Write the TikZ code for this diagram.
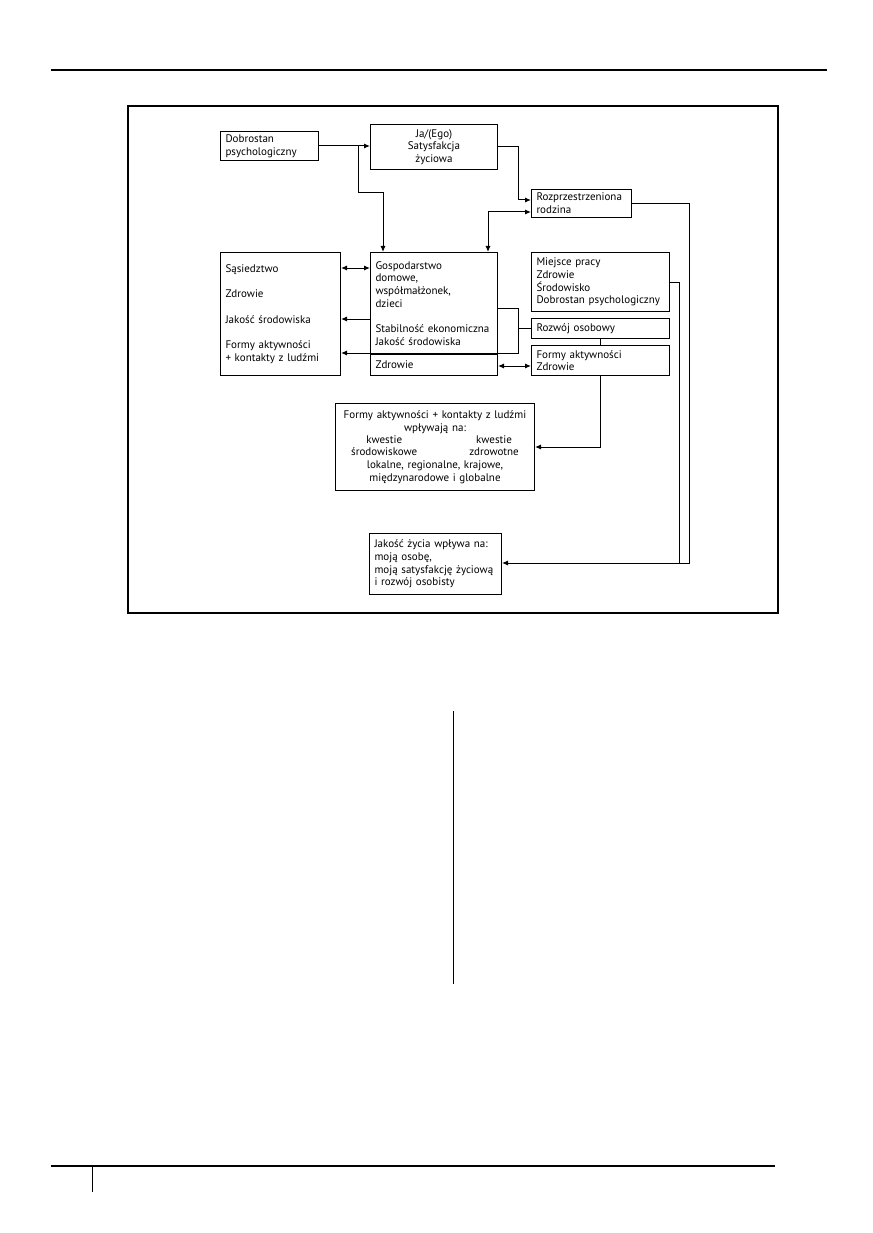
\documentclass[tikz,border=0pt]{standalone}
\usepackage{fontspec}
\setmainfont{PT Sans}
\usetikzlibrary{arrows.meta,positioning}

\begin{document}
\begin{tikzpicture}[
  x=1pt, y=-1pt,
  node distance=6pt,
  box/.style={rectangle, draw=black, line width=1pt, anchor=north west, inner xsep=5pt, inner ysep=0pt,
    align=left, font=\fontsize{11}{12.7}\selectfont},
  cbox/.style={box, align=center},
  arrow/.style={-{Latex[length=6pt,width=5pt]}, line width=1pt},
  dbl/.style={{Latex[length=6pt,width=5pt]}-{Latex[length=6pt,width=5pt]}, line width=1pt},
  link/.style={line width=1pt}
]
\useasboundingbox (0,0) rectangle (872,1233);

% page furniture
\draw[line width=1.3pt] (51,70) -- (827,70);
\draw[line width=1.1pt] (128,106) rectangle (778,613);
\draw[line width=0.8pt] (453,711) -- (453,984);
\draw[line width=1.3pt] (51,1166) -- (775,1166);
\draw[line width=0.8pt] (92,1166) -- (92,1192);

% boxes
\node[box, text width=88pt, minimum height=29pt] (dob) at (220,131) {Dobrostan\\psychologiczny};
\node[cbox, text width=117pt, minimum height=45pt] (ego) at (370,124) {Ja/(Ego)\\Satysfakcja\\życiowa};
\node[box, text width=90pt, minimum height=28pt] (rozp) at (531,189) {Rozprzestrzeniona\\rodzina};
\node[box, text width=110pt, minimum height=123pt] (sas) at (220,252)
  {Sąsiedztwo\\[12.7pt]Zdrowie\\[12.7pt]Jakość środowiska\\[12.7pt]Formy aktywności\\+ kontakty z ludźmi};
\node[box, text width=117pt, minimum height=102pt] (gosp) at (370,252)
  {Gospodarstwo\\domowe,\\współmałżonek,\\dzieci\\[12.7pt]Stabilność ekonomiczna\\Jakość środowiska};
\node[box, text width=117pt, minimum height=21pt, below=-1pt of gosp] (gospz) {Zdrowie};
\node[box, text width=128pt, minimum height=59pt] (mp) at (531,252)
  {Miejsce pracy\\Zdrowie\\Środowisko\\Dobrostan psychologiczny};
\node[box, text width=128pt, minimum height=20pt, below=of mp] (ro) {Rozwój osobowy};
\node[box, text width=128pt, minimum height=30pt, below=of ro] (fz) {Formy aktywności\\Zdrowie};
\node[cbox, inner xsep=3pt, text width=193pt, minimum height=87pt] (fk) at (335,403)
  {Formy aktywności + kontakty z ludźmi\\wpływają na:\\
   \begin{tabular}{@{}c@{\hspace{52pt}}c@{}}kwestie & kwestie\\ środowiskowe & zdrowotne\end{tabular}\\
   lokalne, regionalne, krajowe,\\międzynarodowe i globalne};
\node[box, text width=122pt, minimum height=61pt] (jz) at (369,533)
  {Jakość życia wpływa na:\\moją osobę,\\moją satysfakcję życiową\\i rozwój osobisty};

% junction points
\coordinate (k1) at (358,193);
\coordinate (k2) at (383,193);
\coordinate (k3) at (518,200);
\coordinate (k4) at (488,212);
\coordinate (k5) at (689,563);
\coordinate (k6) at (679,563);
\coordinate (k7) at (355,268);
\coordinate (k8) at (355,319);
\coordinate (k9) at (518,308);
\coordinate (k10) at (518,353);
\coordinate (k11) at (514,366);

% connectors
\draw[arrow] (dob.east) -- (dob.east -| ego.west);
\draw[arrow] (k1 |- dob.east) -- (k1) -- (k2) -- (k2 |- gosp.north);
\draw[arrow] (ego.east) -| (k3) -- (k3 -| rozp.west);
\draw[dbl] (k4 -| rozp.west) -- (k4) -- (k4 |- gosp.north);
\draw[arrow] (rozp.east) -| (k5) -- (k5 -| jz.east);
\draw[link] (mp.east) -| (k6);
\draw[dbl] (k7 -| sas.east) -- (k7 -| gosp.west);
\draw[arrow] (k8 -| gosp.west) -- (k8 -| sas.east);
\draw[arrow] (k9 -| gosp.east) -- (k9) -- (k10) -- (k10 -| sas.east);
\draw[link] (ro.west) -- (ro.west -| k9);
\draw[dbl] (k11 -| gospz.east) -- (k11 -| fz.west);
\draw[link] (ro.south) -- (fz.north);
\draw[arrow] (fz.south) |- (fk.east);
\end{tikzpicture}
\end{document}
